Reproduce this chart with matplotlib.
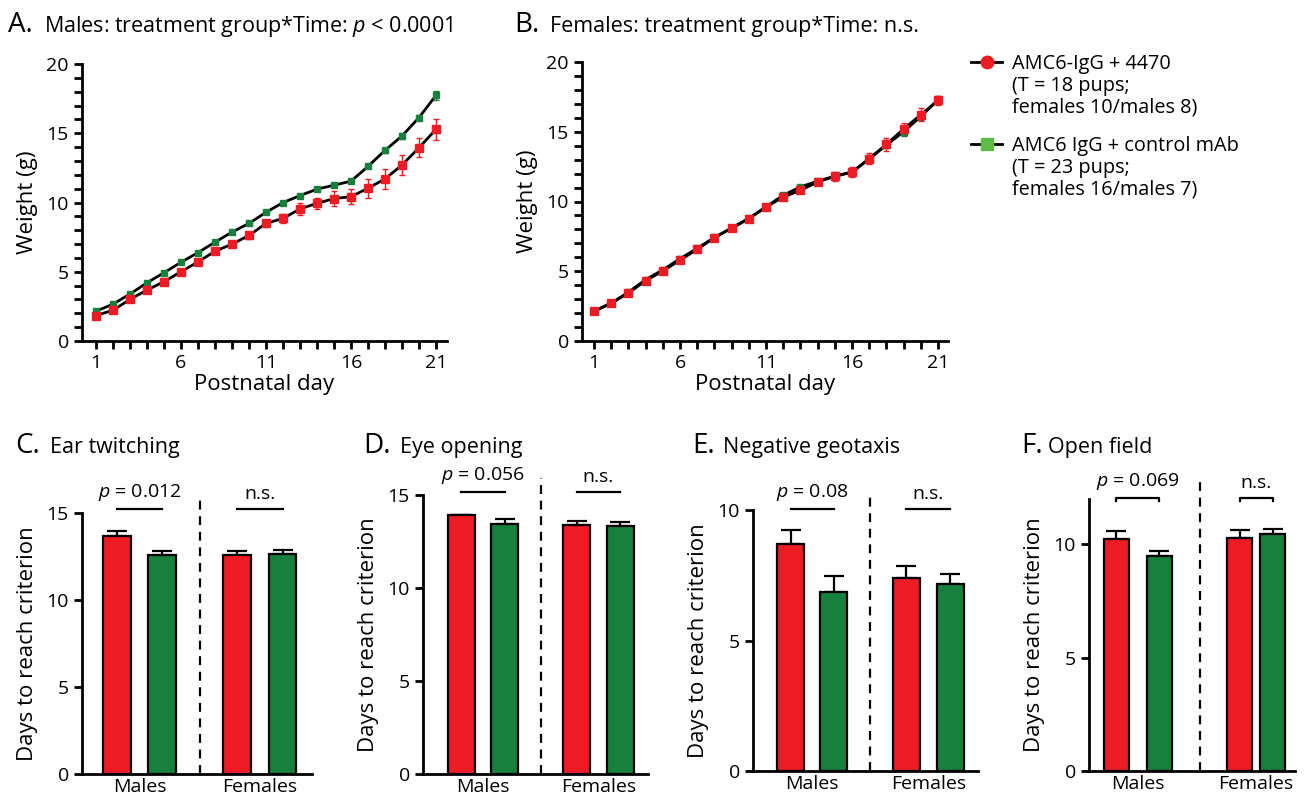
import matplotlib.pyplot as plt
from matplotlib.lines import Line2D

plt.rcParams['font.family'] = ['Open Sans', 'DejaVu Sans']
plt.rcParams['mathtext.fontset'] = 'custom'
plt.rcParams['mathtext.rm'] = 'Open Sans'
plt.rcParams['mathtext.it'] = 'Open Sans:italic'

# ---- data: weight curves (panels A, B) ----
days = list(range(1, 22))
male_4470 = [1.84, 2.22, 3.00, 3.68, 4.28, 5.00, 5.71, 6.48, 6.99, 7.62, 8.49,
             8.85, 9.53, 9.94, 10.28, 10.42, 11.03, 11.70, 12.70, 13.95, 15.28]
male_4470_err = [0.10, 0.10, 0.10, 0.10, 0.10, 0.12, 0.15, 0.18, 0.22, 0.28, 0.28,
                 0.30, 0.42, 0.42, 0.52, 0.55, 0.70, 0.75, 0.70, 0.70, 0.75]
male_ctrl = [2.15, 2.66, 3.39, 4.20, 4.93, 5.68, 6.38, 7.13, 7.86, 8.49, 9.29,
             9.99, 10.50, 10.96, 11.25, 11.54, 12.60, 13.76, 14.80, 16.13, 17.73]
male_ctrl_err = [0.08, 0.08, 0.08, 0.08, 0.08, 0.08, 0.08, 0.08, 0.08, 0.08, 0.08,
                 0.08, 0.08, 0.08, 0.08, 0.10, 0.12, 0.15, 0.20, 0.20, 0.30]
female_4470 = [2.13, 2.70, 3.44, 4.32, 5.02, 5.80, 6.57, 7.41, 8.08, 8.77, 9.60,
               10.32, 10.80, 11.40, 11.80, 12.10, 13.07, 14.10, 15.20, 16.22, 17.25]
female_4470_err = [0.10, 0.10, 0.10, 0.10, 0.10, 0.10, 0.10, 0.10, 0.10, 0.10, 0.12,
                   0.20, 0.20, 0.22, 0.35, 0.35, 0.38, 0.45, 0.45, 0.45, 0.30]
female_ctrl = [2.15, 2.72, 3.50, 4.40, 5.10, 5.90, 6.65, 7.42, 8.10, 8.80, 9.62,
               10.45, 11.05, 11.45, 11.82, 12.12, 13.05, 14.05, 15.00, 16.10, 17.28]
female_ctrl_err = [0.08, 0.08, 0.08, 0.08, 0.08, 0.08, 0.08, 0.08, 0.08, 0.08, 0.10,
                   0.12, 0.12, 0.15, 0.20, 0.20, 0.25, 0.25, 0.28, 0.28, 0.25]

# ---- data: milestones (panels C-F) ----
groups = ['Males', 'Females']
ear_4470, ear_4470_err = [13.66, 12.56], [0.32, 0.23]
ear_ctrl, ear_ctrl_err = [12.56, 12.62], [0.23, 0.23]
eye_4470, eye_4470_err = [13.92, 13.39], [0.02, 0.23]
eye_ctrl, eye_ctrl_err = [13.44, 13.33], [0.25, 0.24]
geo_4470, geo_4470_err = [8.68, 7.40], [0.55, 0.45]
geo_ctrl, geo_ctrl_err = [6.84, 7.16], [0.64, 0.38]
open_4470, open_4470_err = [10.25, 10.29], [0.34, 0.33]
open_ctrl, open_ctrl_err = [9.47, 10.47], [0.22, 0.21]
ear_p = ['$p$ = 0.012', 'n.s.']
eye_p = ['$p$ = 0.056', 'n.s.']
geo_p = ['$p$ = 0.08', 'n.s.']
open_p = ['$p$ = 0.069', 'n.s.']

RED = '#ED1C24'
GREEN = '#17803D'
GREEN_LIGHT = '#5DBB46'

W, H = 1305, 800
fig = plt.figure(figsize=(W / 100, H / 100), dpi=100)


def box(l, t, r, b):
    return [l / W, 1 - b / H, (r - l) / W, (b - t) / H]


def fx(x, y):
    return x / W, 1 - y / H


def panel_title(x_letter, x_text, y, letter, text):
    fig.text(*fx(x_letter, y), letter, fontsize=20, va='baseline')
    fig.text(*fx(x_text, y), text, fontsize=15.5, va='baseline')


def style_axes(ax):
    for s in ['top', 'right']:
        ax.spines[s].set_visible(False)
    for s in ['left', 'bottom']:
        ax.spines[s].set_linewidth(2)


def weight_panel(rect, xlim, v4470, e4470, vctrl, ectrl):
    ax = fig.add_axes(box(*rect))
    style_axes(ax)
    series = [(vctrl, ectrl, GREEN, 4.5), (v4470, e4470, RED, 5.5)]
    for vals, errs, col, ms in series:
        ax.plot(days, vals, color='k', lw=2, zorder=2)
    for vals, errs, col, ms in series:
        ax.errorbar(days, vals, yerr=errs, fmt='s', color=col, ms=ms,
                    elinewidth=1, capsize=2.5, capthick=1, zorder=3)
    ax.set_xlim(*xlim)
    ax.set_ylim(0, 20)
    ax.set_xticks([1, 6, 11, 16, 21])
    ax.set_xticks(days, minor=True)
    ax.set_yticks([0, 5, 10, 15, 20])
    ax.set_yticks(range(0, 21), minor=True)
    ax.tick_params(which='both', width=2, length=6, labelsize=14)
    ax.set_xlabel('Postnatal day', fontsize=16, labelpad=1)
    ax.set_ylabel('Weight (g)', fontsize=16, labelpad=6)
    return ax


# ---- panels A and B ----
weight_panel((82, 64, 447, 341), (0.18, 21.65),
             male_4470, male_4470_err, male_ctrl, male_ctrl_err)
weight_panel((582, 62, 948, 341), (0.30, 21.58),
             female_4470, female_4470_err, female_ctrl, female_ctrl_err)
panel_title(8, 44, 32, 'A.', 'Males: treatment group*Time: $p$ < 0.0001')
panel_title(514, 550, 32, 'B.', 'Females: treatment group*Time: n.s.')

# ---- legend ----
legend_items = [
    (RED, 'o', 'AMC6-IgG + 4470\n(T = 18 pups;\nfemales 10/males 8)', 62),
    (GREEN_LIGHT, 's', 'AMC6 IgG + control mAb\n(T = 23 pups;\nfemales 16/males 7)', 144),
]
for col, mk, label, y in legend_items:
    fig.add_artist(Line2D([971 / W, 1002 / W], [1 - y / H] * 2, color='k', lw=2,
                          transform=fig.transFigure))
    fig.add_artist(Line2D([986.5 / W], [1 - y / H], marker=mk, color=col, ms=9,
                          mec=col, transform=fig.transFigure))
    fig.text(*fx(1012, y - 8), label, fontsize=14.3, va='top', linespacing=1.13)


def bar_panel(rect, top, yticks, pos, v4470, e4470, vctrl, ectrl, plabels,
              sig_y, dash_top, bracket=False):
    ax = fig.add_axes(box(*rect))
    style_axes(ax)
    for i in range(2):
        for x, v, e, col in [(pos[2 * i], v4470[i], e4470[i], RED),
                             (pos[2 * i + 1], vctrl[i], ectrl[i], GREEN)]:
            ax.bar(x, v, width=1.2, color=col, edgecolor='k', lw=1.6, zorder=2)
            ax.errorbar(x, v, yerr=[[0], [e]], fmt='none', ecolor='k',
                        elinewidth=1.6, capsize=7, capthick=1.6, zorder=1)
        x0, x1 = pos[2 * i], pos[2 * i + 1]
        tick = 0.012 * top if bracket else 0
        ax.plot([x0, x0, x1, x1], [sig_y - tick, sig_y, sig_y, sig_y - tick],
                color='k', lw=1.6, clip_on=False)
        ax.text((x0 + x1) / 2, sig_y + 0.022 * top, plabels[i], ha='center',
                va='bottom', fontsize=14)
    dx = (pos[1] + pos[2]) / 2
    ax.plot([dx, dx], [0, dash_top], color='k', lw=1.6, ls=(0, (4, 3)),
            clip_on=False)
    ax.set_xlim(0, 10)
    ax.set_ylim(0, top)
    ax.set_yticks(yticks)
    ax.set_xticks([(pos[0] + pos[1]) / 2, (pos[2] + pos[3]) / 2])
    ax.set_xticklabels(groups)
    ax.tick_params(axis='x', length=0, labelsize=14, pad=3)
    ax.tick_params(axis='y', width=2, length=6, labelsize=14)
    ax.set_ylabel('Days to reach criterion', fontsize=16, labelpad=6)
    return ax


bar_panel((82, 513, 312, 774), 15, [0, 5, 10, 15], [1.52, 3.48, 6.74, 8.72],
          ear_4470, ear_4470_err, ear_ctrl, ear_ctrl_err, ear_p, 15.23, 15.9)
bar_panel((423, 495, 648, 774), 15, [0, 5, 10, 15], [1.71, 3.64, 6.84, 8.76],
          eye_4470, eye_4470_err, eye_ctrl, eye_ctrl_err, eye_p, 15.16, 15.9)
bar_panel((753, 510, 978, 771), 10, [0, 5, 10], [1.67, 3.58, 6.82, 8.76],
          geo_4470, geo_4470_err, geo_ctrl, geo_ctrl_err, geo_p, 10.04, 10.73)
bar_panel((1089, 499, 1295, 771), 12, [0, 5, 10], [1.33, 3.42, 7.31, 8.91],
          open_4470, open_4470_err, open_ctrl, open_ctrl_err, open_p, 12.06, 12.86,
          bracket=True)

panel_title(15, 50, 453, 'C.', 'Ear twitching')
panel_title(363, 400, 453, 'D.', 'Eye opening')
panel_title(692, 723, 453, 'E.', 'Negative geotaxis')
panel_title(1021, 1048, 453, 'F.', 'Open field')

fig.savefig('out.png', dpi=100)
